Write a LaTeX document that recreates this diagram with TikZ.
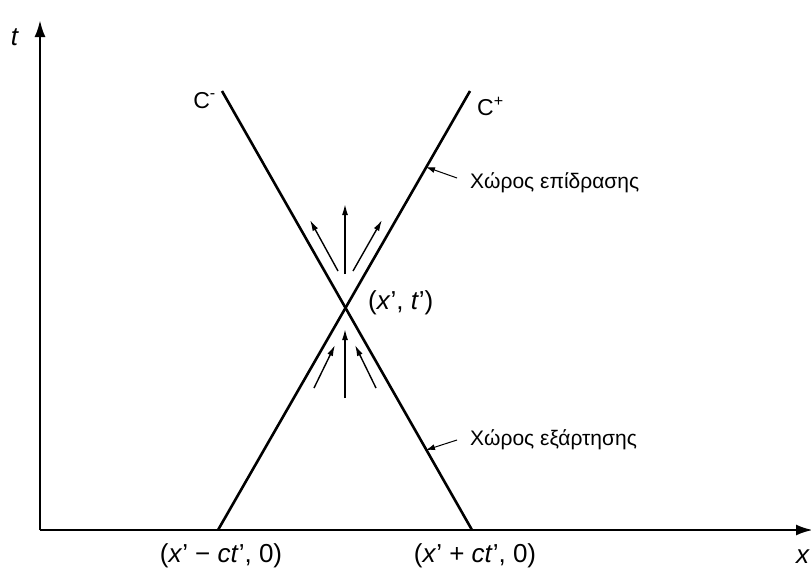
\documentclass[tikz,border=0pt]{standalone}
\usepackage{fontspec}
\setmainfont{Liberation Sans}
\usetikzlibrary{arrows.meta}
\newcommand{\vx}[1]{\textit{#1}}
\begin{document}
\begin{tikzpicture}[x=1pt,y=-1pt,
  axis/.style={line width=2.6pt,-{Latex[length=17pt,width=11pt]}},
  char/.style={line width=2.6pt},
  flow/.style={line width=1.4pt,-{Latex[length=11pt,width=6pt]}},
  lead/.style={line width=1pt,{Latex[length=9pt,width=6pt]}-},
  lbl/.style={font=\fontsize{21}{25}\selectfont,inner sep=0pt},
  clbl/.style={font=\fontsize{23}{27}\selectfont,inner sep=0pt},
  ilbl/.style={font=\fontsize{26}{30}\selectfont,inner sep=0pt}]
\useasboundingbox (0,0) rectangle (811,571);
% axes
\coordinate (O) at (40,530);
\coordinate (T) at (40,20);
\coordinate (X) at (813,530);
\draw[axis] (O) -- (T);
\draw[axis] (O) -- (X);
\node[ilbl] (tl) at (15,37) {\vx{t}};
\node[ilbl] (xl) at (803,557) {\vx{x}};
% characteristics
\coordinate (A) at (218,530);
\coordinate (B) at (472,530);
\coordinate (Cp) at (470,91);
\coordinate (Cm) at (222,91);
\draw[char] (A) -- (Cp);
\draw[char] (B) -- (Cm);
\node[clbl,anchor=west] (cp) at (477,106) {C\textsuperscript{+}};
\node[clbl,anchor=east] (cm) at (216,101) {C\textsuperscript{\raisebox{1pt}{-}}};
\node[ilbl,anchor=west] (pt) at (368,303) {(\vx{x}’, \vx{t}’)};
% flow arrows above
\coordinate (u1s) at (338,271); \coordinate (u1e) at (310,220);
\coordinate (u2s) at (345,274); \coordinate (u2e) at (345,204);
\coordinate (u3s) at (353,271); \coordinate (u3e) at (382,220);
\draw[flow] (u1s) -- (u1e);
\draw[flow] (u2s) -- (u2e);
\draw[flow] (u3s) -- (u3e);
% flow arrows below
\coordinate (d1s) at (314,388); \coordinate (d1e) at (335,345);
\coordinate (d2s) at (345,398); \coordinate (d2e) at (345,329);
\coordinate (d3s) at (376,388); \coordinate (d3e) at (355,345);
\draw[flow] (d1s) -- (d1e);
\draw[flow] (d2s) -- (d2e);
\draw[flow] (d3s) -- (d3e);
% leaders
\coordinate (m1) at (426,167);
\coordinate (m2) at (426,450);
\coordinate (e1) at (457,178);
\coordinate (e2) at (457,440);
\node[lbl,anchor=west] (inf) at (470,183) {Χώρος επίδρασης};
\node[lbl,anchor=west] (dep) at (470,440) {Χώρος εξάρτησης};
\draw[lead] (m1) -- (e1);
\draw[lead] (m2) -- (e2);
% bottom labels
\node[ilbl] (al) at (221,556) {(\vx{x}’ − \vx{ct}’, 0)};
\node[ilbl] (bl) at (475,556) {(\vx{x}’ + \vx{ct}’, 0)};
\end{tikzpicture}
\end{document}
